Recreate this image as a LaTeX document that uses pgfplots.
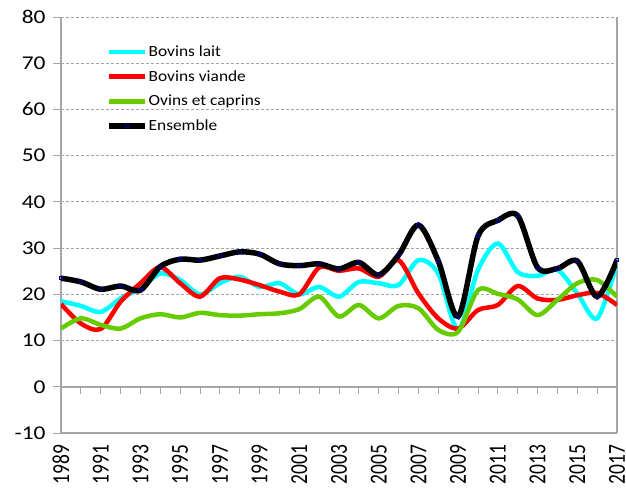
\documentclass[border=0pt]{standalone}
\usepackage{fontspec}
\setmainfont{Carlito}[FakeStretch=1.2]
\newfontfamily\xfont{Carlito}
\newfontfamily\legfont{Carlito}[FakeStretch=1.12]
\usepackage{graphicx}
\usepackage{pgfplots}
\usepackage{pgfplotstable}
\pgfplotsset{compat=1.18}

\definecolor{cBL}{RGB}{0,255,255}
\definecolor{cBV}{RGB}{255,0,0}
\definecolor{cOC}{RGB}{102,204,0}
\definecolor{axgray}{RGB}{165,165,165}
\definecolor{mkblue}{RGB}{0,0,130}

\pgfplotstableread{
year BL BV OC EN
1989 18.5 17.9 12.6 23.5
1990 17.5 13.7 14.8 22.7
1991 16.2 12.5 13.4 21.1
1992 19.1 18.4 12.6 21.8
1993 21.3 22.4 14.8 20.9
1994 24.5 25.9 15.7 26.0
1995 23.1 22.4 15.0 27.6
1996 20.0 19.5 16.0 27.4
1997 22.4 23.5 15.5 28.3
1998 23.8 23.2 15.4 29.2
1999 21.6 22.0 15.7 28.7
2000 22.4 20.6 15.9 26.6
2001 20.0 20.0 16.8 26.2
2002 21.6 25.8 19.5 26.6
2003 19.5 25.1 15.2 25.5
2004 22.7 25.6 17.7 26.9
2005 22.4 23.8 14.8 24.2
2006 22.0 27.4 17.5 28.5
2007 27.4 20.2 17.0 35.0
2008 24.5 14.8 12.3 27.2
2009 12.3 12.6 11.9 15.2
2010 25.3 16.6 20.9 32.6
2011 31.0 17.7 20.1 36.0
2012 24.8 21.8 18.9 37.0
2013 24.0 19.1 15.5 25.8
2014 25.3 18.8 18.8 25.6
2015 20.2 19.8 22.4 27.2
2016 14.8 20.3 23.1 19.5
2017 26.7 17.7 19.5 27.4
}\data

\begin{document}
\begin{tikzpicture}
\path[use as bounding box] (-61bp,-55bp) rectangle (565bp,433bp);
\begin{axis}[
    at={(0,0)}, anchor=south west,
    scale only axis,
    width=556bp, height=416bp,
    xmin=1989, xmax=2017,
    ymin=-10, ymax=80,
    ytick={-10,0,...,80},
    xtick={1989,1991,...,2017},
    axis x line*=bottom,
    axis y line*=box,
    ytick pos=left,
    tick align=outside,
    major tick length=8bp,
    major x tick style={draw=none},
    tick style={axgray, line width=1bp},
    axis line style={axgray, line width=1.5bp},
    ymajorgrids,
    grid style={axgray, line width=0.8bp, dash pattern=on 3bp off 2bp},
    /pgf/number format/assume math mode=true,
    /pgf/number format/1000 sep={},
    xticklabel={\scalebox{1}[1.25]{\pgfmathprintnumber{\tick}}},
    x tick label style={rotate=90, anchor=east,
        font=\xfont\fontsize{19.5bp}{21bp}\selectfont},
    y tick label style={xshift=-4bp, font=\fontsize{19.5bp}{21bp}\selectfont},
    legend style={at={(rel axis cs:0.0765,0.941)}, anchor=north west,
        draw=none, fill=none, row sep=8.5bp,
        nodes={inner xsep=1.5bp},
        font=\legfont\fontsize{15.5bp}{17bp}\selectfont},
    legend cell align=left,
    legend image code/.code={
        \draw[mark repeat=2, mark phase=2, #1]
            plot coordinates {(0bp,0bp) (17.5bp,0bp) (35bp,0bp)};},
    every axis plot/.append style={smooth, tension=0.5},
]
\draw[axgray, line width=1.5bp] (axis cs:1989,0) -- (axis cs:2017,0);
\pgfplotsinvokeforeach{1990,1991,...,2017}{
    \draw[axgray, line width=1bp] (axis cs:#1,0) -- ++(0bp,-7bp);
}
\addplot[cBL, line width=4.5bp, no marks] table[x=year, y=BL] {\data};
\addplot[cBV, line width=4.5bp, no marks] table[x=year, y=BV] {\data};
\addplot[cOC, line width=4.5bp, no marks] table[x=year, y=OC] {\data};
\addplot[black, line width=5.5bp, mark=square, mark size=1.6bp,
    mark options={draw=mkblue, fill=none, line width=0.8bp, solid}]
    table[x=year, y=EN] {\data};
\legend{Bovins lait, Bovins viande, Ovins et caprins, Ensemble}
\end{axis}
\end{tikzpicture}
\end{document}
